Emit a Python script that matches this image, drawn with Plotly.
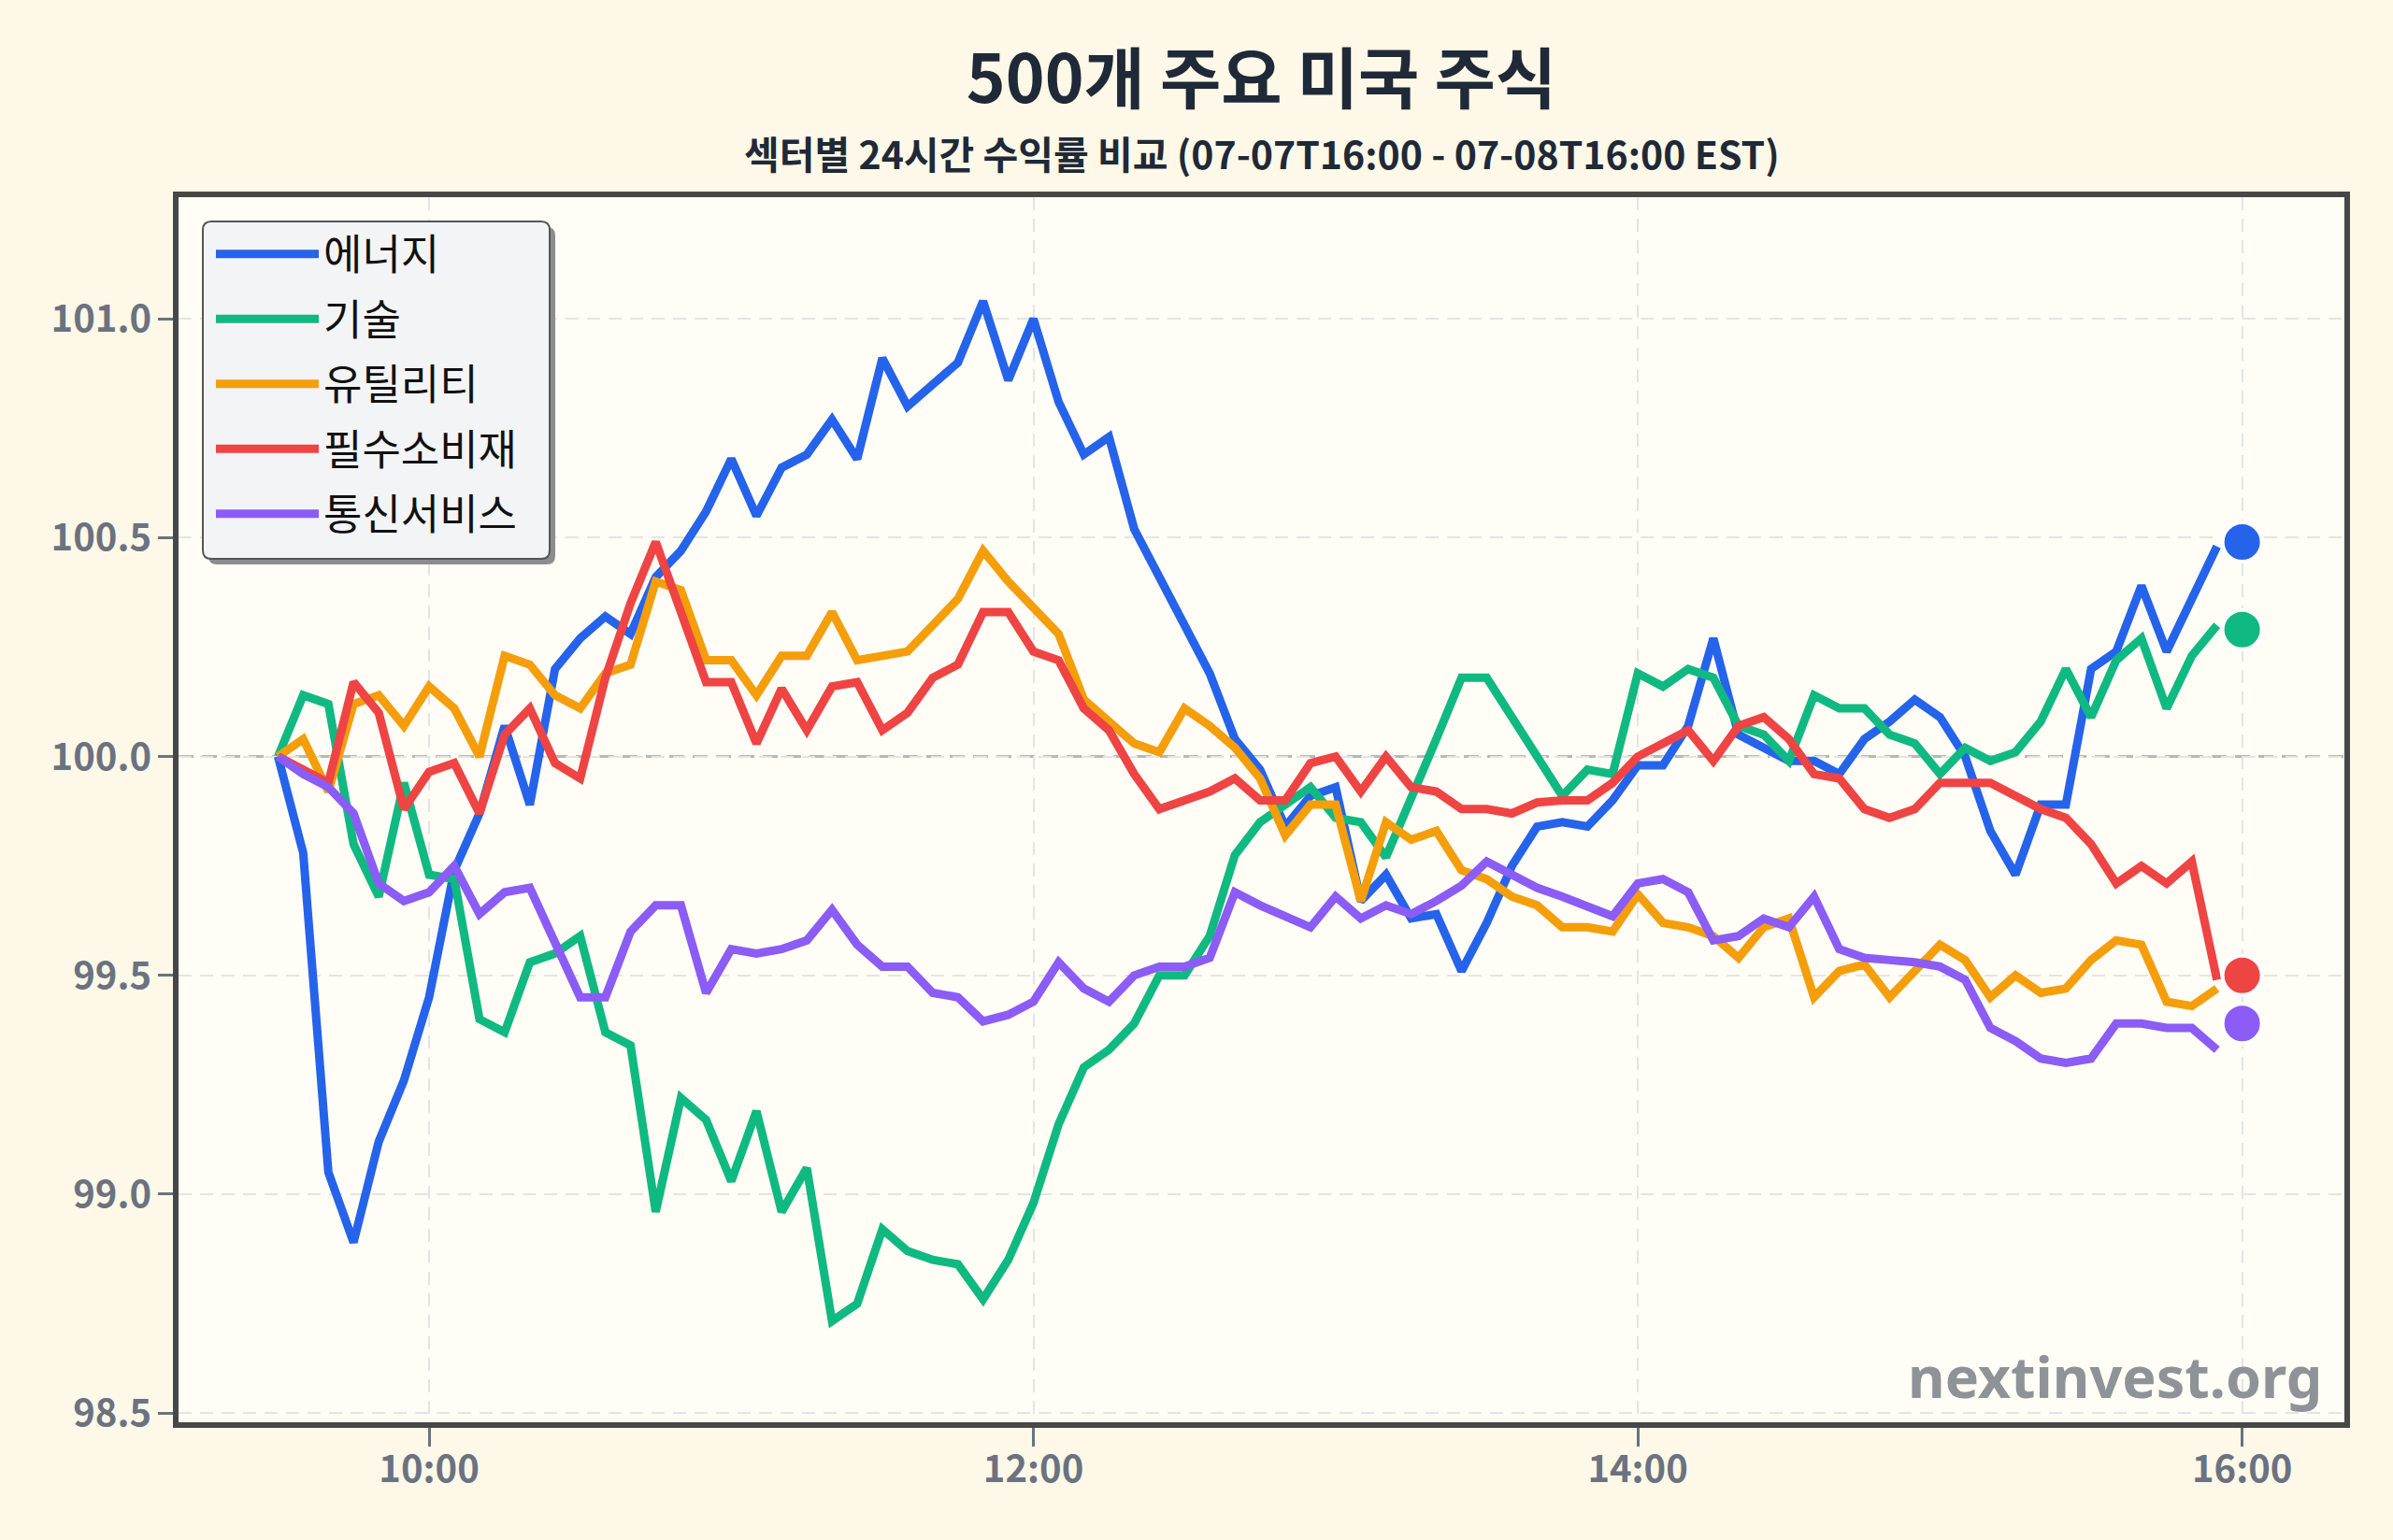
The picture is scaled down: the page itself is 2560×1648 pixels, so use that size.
import pandas as pd
import plotly.graph_objects as go

# ---------------- data ----------------
times = pd.date_range("2025-07-08 09:30", periods=78, freq="5min")
end_time = pd.Timestamp("2025-07-08 16:00")

sectors = ["에너지", "기술", "유틸리티", "필수소비재", "통신서비스"]
colors = ["#2563EB", "#10B981", "#F59E0B", "#EF4444", "#8B5CF6"]

energy = [100.00, 99.78, 99.05, 98.89, 99.12, 99.26, 99.45, 99.74, 99.87, 100.07,
          99.89, 100.20, 100.27, 100.32, 100.28, 100.41, 100.47, 100.56, 100.68, 100.55,
          100.66, 100.69, 100.77, 100.68, 100.91, 100.80, 100.85, 100.90, 101.04, 100.86,
          101.00, 100.81, 100.69, 100.73, 100.52, 100.41, 100.30, 100.19, 100.04, 99.97,
          99.84, 99.91, 99.93, 99.67, 99.73, 99.63, 99.64, 99.51, 99.62, 99.75,
          99.84, 99.85, 99.84, 99.90, 99.98, 99.98, 100.07, 100.27, 100.05, 100.02,
          99.99, 99.99, 99.96, 100.04, 100.08, 100.13, 100.09, 100.00, 99.83, 99.73,
          99.89, 99.89, 100.20, 100.24, 100.39, 100.24, 100.36, 100.48]

tech = [100.00, 100.14, 100.12, 99.80, 99.68, 99.94, 99.73, 99.72, 99.40, 99.37,
        99.53, 99.55, 99.59, 99.37, 99.34, 98.96, 99.22, 99.17, 99.03, 99.19,
        98.96, 99.06, 98.71, 98.75, 98.92, 98.87, 98.85, 98.84, 98.76, 98.85,
        98.98, 99.16, 99.29, 99.33, 99.39, 99.50, 99.50, 99.59, 99.775, 99.85,
        99.89, 99.93, 99.86, 99.85, 99.77, 99.90, 100.04, 100.18, 100.18, 100.09,
        100.00, 99.91, 99.97, 99.96, 100.19, 100.16, 100.20, 100.18, 100.07, 100.05,
        99.99, 100.14, 100.11, 100.11, 100.05, 100.03, 99.96, 100.02, 99.99, 100.01,
        100.08, 100.20, 100.09, 100.22, 100.27, 100.11, 100.23, 100.30]

utilities = [100.00, 100.04, 99.92, 100.12, 100.14, 100.07, 100.16, 100.11, 100.00, 100.23,
             100.21, 100.14, 100.11, 100.19, 100.21, 100.40, 100.38, 100.22, 100.22, 100.14,
             100.23, 100.23, 100.33, 100.22, 100.23, 100.24, 100.30, 100.36, 100.47, 100.40,
             100.34, 100.28, 100.13, 100.08, 100.03, 100.01, 100.11, 100.07, 100.02, 99.95,
             99.82, 99.89, 99.89, 99.67, 99.85, 99.81, 99.83, 99.74, 99.72, 99.68,
             99.66, 99.61, 99.61, 99.60, 99.685, 99.62, 99.61, 99.59, 99.54, 99.61,
             99.63, 99.45, 99.51, 99.525, 99.45, 99.51, 99.57, 99.535, 99.45, 99.50,
             99.46, 99.47, 99.535, 99.58, 99.57, 99.44, 99.43, 99.47]

staples = [100.00, 99.97, 99.94, 100.17, 100.10, 99.88, 99.965, 99.985, 99.87, 100.05,
           100.11, 99.985, 99.95, 100.18, 100.35, 100.49, 100.33, 100.17, 100.17, 100.03,
           100.155, 100.06, 100.16, 100.17, 100.06, 100.10, 100.18, 100.21, 100.33, 100.33,
           100.24, 100.22, 100.11, 100.06, 99.96, 99.88, 99.90, 99.92, 99.95, 99.90,
           99.90, 99.985, 100.00, 99.92, 100.00, 99.93, 99.92, 99.88, 99.88, 99.87,
           99.895, 99.90, 99.90, 99.94, 100.00, 100.03, 100.06, 99.99, 100.07, 100.09,
           100.04, 99.96, 99.95, 99.88, 99.86, 99.88, 99.94, 99.94, 99.94, 99.91,
           99.88, 99.86, 99.80, 99.71, 99.75, 99.71, 99.76, 99.49]

telecom = [100.00, 99.96, 99.93, 99.87, 99.71, 99.67, 99.69, 99.75, 99.64, 99.69,
           99.70, 99.57, 99.45, 99.45, 99.60, 99.66, 99.66, 99.46, 99.56, 99.55,
           99.56, 99.58, 99.65, 99.57, 99.52, 99.52, 99.46, 99.45, 99.395, 99.41,
           99.44, 99.53, 99.47, 99.44, 99.50, 99.52, 99.52, 99.54, 99.69, 99.66,
           99.635, 99.61, 99.68, 99.63, 99.66, 99.64, 99.67, 99.705, 99.76, 99.73,
           99.70, 99.68, 99.655, 99.635, 99.71, 99.72, 99.69, 99.58, 99.59, 99.63,
           99.61, 99.68, 99.56, 99.54, 99.535, 99.53, 99.52, 99.49, 99.38, 99.35,
           99.31, 99.30, 99.31, 99.39, 99.39, 99.38, 99.38, 99.33]

end_values = [100.49, 100.29, 99.50, 99.50, 99.39]

y_ticks = [98.5, 99.0, 99.5, 100.0, 100.5, 101.0]
x_ticks = ["2025-07-08 10:00", "2025-07-08 12:00", "2025-07-08 14:00", "2025-07-08 16:00"]
x_tick_labels = ["10:00", "12:00", "14:00", "16:00"]

title_text = "500개 주요 미국 주식"
subtitle_text = "섹터별 24시간 수익률 비교 (07-07T16:00 - 07-08T16:00 EST)"
watermark = "nextinvest.org"

series = [energy, tech, utilities, staples, telecom]

# ---------------- figure ----------------
W, H = 2560, 1648
ML, MR, MT, MB = 191, 52, 211, 126
PW, PH = W - ML - MR, H - MT - MB
KR = "Noto Sans CJK KR"

fig = go.Figure()
for name, col, vals in zip(sectors, colors, series):
    fig.add_trace(go.Scatter(
        x=times, y=vals, mode="lines", name=name, legendgroup=name,
        line=dict(color=col, width=9), hoverinfo="x+y+name"))
for name, col, v in zip(sectors, colors, end_values):
    fig.add_trace(go.Scatter(
        x=[end_time], y=[v], mode="markers", showlegend=False, legendgroup=name,
        marker=dict(color=col, size=42, line=dict(color="white", width=4)),
        cliponaxis=False, hoverinfo="x+y"))


def rounded_path(x0, y0, x1, y1, r):
    # pixel coords, y upward (relative to plot top-left anchor)
    return (f"M{x0 + r},{y0} L{x1 - r},{y0} Q{x1},{y0} {x1},{y0 - r} "
            f"L{x1},{y1 + r} Q{x1},{y1} {x1 - r},{y1} L{x0 + r},{y1} "
            f"Q{x0},{y1} {x0},{y1 + r} L{x0},{y0 - r} Q{x0},{y0} {x0 + r},{y0} Z")


shapes = [
    dict(type="line", xref="paper", x0=0, x1=1, yref="y", y0=100, y1=100,
         line=dict(color="#B8B8B8", width=3, dash="16px,9px"), layer="below"),
    dict(type="path", xref="paper", yref="paper", xanchor=0, yanchor=1,
         xsizemode="pixel", ysizemode="pixel",
         path=rounded_path(32, -32, 403, -393, 9),
         fillcolor="#8C8C8C", line=dict(width=0), layer="above"),
    dict(type="path", xref="paper", yref="paper", xanchor=0, yanchor=1,
         xsizemode="pixel", ysizemode="pixel",
         path=rounded_path(26, -26, 397, -387, 9),
         fillcolor="#F3F4F6", line=dict(color="#555555", width=2), layer="above"),
]

axis_common = dict(
    showline=True, mirror=True, linecolor="#474747", linewidth=6,
    showgrid=True, gridcolor="#E4E4E4", gridwidth=2, griddash="14px,9px",
    ticks="outside", ticklen=16, tickwidth=3, tickcolor="#6B7280",
    tickfont=dict(family=KR, size=40, color="#6B7280", weight="bold"),
    zeroline=False,
)

fig.update_layout(
    width=W, height=H,
    margin=dict(l=ML, r=MR, t=MT, b=MB),
    paper_bgcolor="#FDF8E7",
    plot_bgcolor="#FFFDF5",
    title=dict(text=title_text, x=0.5, xref="paper", xanchor="center",
               y=1 - 85 / H, yref="container", yanchor="middle",
               font=dict(family=KR, size=71, color="#1F2937", weight="bold")),
    annotations=[
        dict(text=subtitle_text, xref="paper", yref="paper", x=0.5,
             y=1 + (MT - 163) / PH, xanchor="center", yanchor="middle",
             showarrow=False,
             font=dict(family=KR, size=41, color="#1F2937", weight="bold")),
        dict(text=watermark, xref="paper", yref="paper", x=(2486 - ML) / PW,
             y=(H - MB - 1472) / PH, xanchor="right", yanchor="middle",
             showarrow=False,
             font=dict(family="Noto Sans", size=61, color="#8E9397", weight="bold")),
    ],
    shapes=shapes,
    showlegend=True,
    legend=dict(x=(234 - 8 - ML) / PW, y=1 - (236 - MT) / PH, xanchor="left", yanchor="top",
                bgcolor="rgba(0,0,0,0)", borderwidth=0,
                font=dict(family=KR, size=45, color="#111111"),
                itemwidth=110, traceorder="grouped", tracegroupgap=8),
    xaxis=dict(axis_common, type="date",
               range=["2025-07-08 09:10:15", "2025-07-08 16:20:18"],
               tickvals=x_ticks, ticktext=x_tick_labels, ticklen=20,
               ticklabelstandoff=-10),
    yaxis=dict(axis_common, range=[98.479, 101.278],
               tickvals=y_ticks, tickformat=".1f", ticklabelstandoff=-1),
)

fig.write_html("out.html")
